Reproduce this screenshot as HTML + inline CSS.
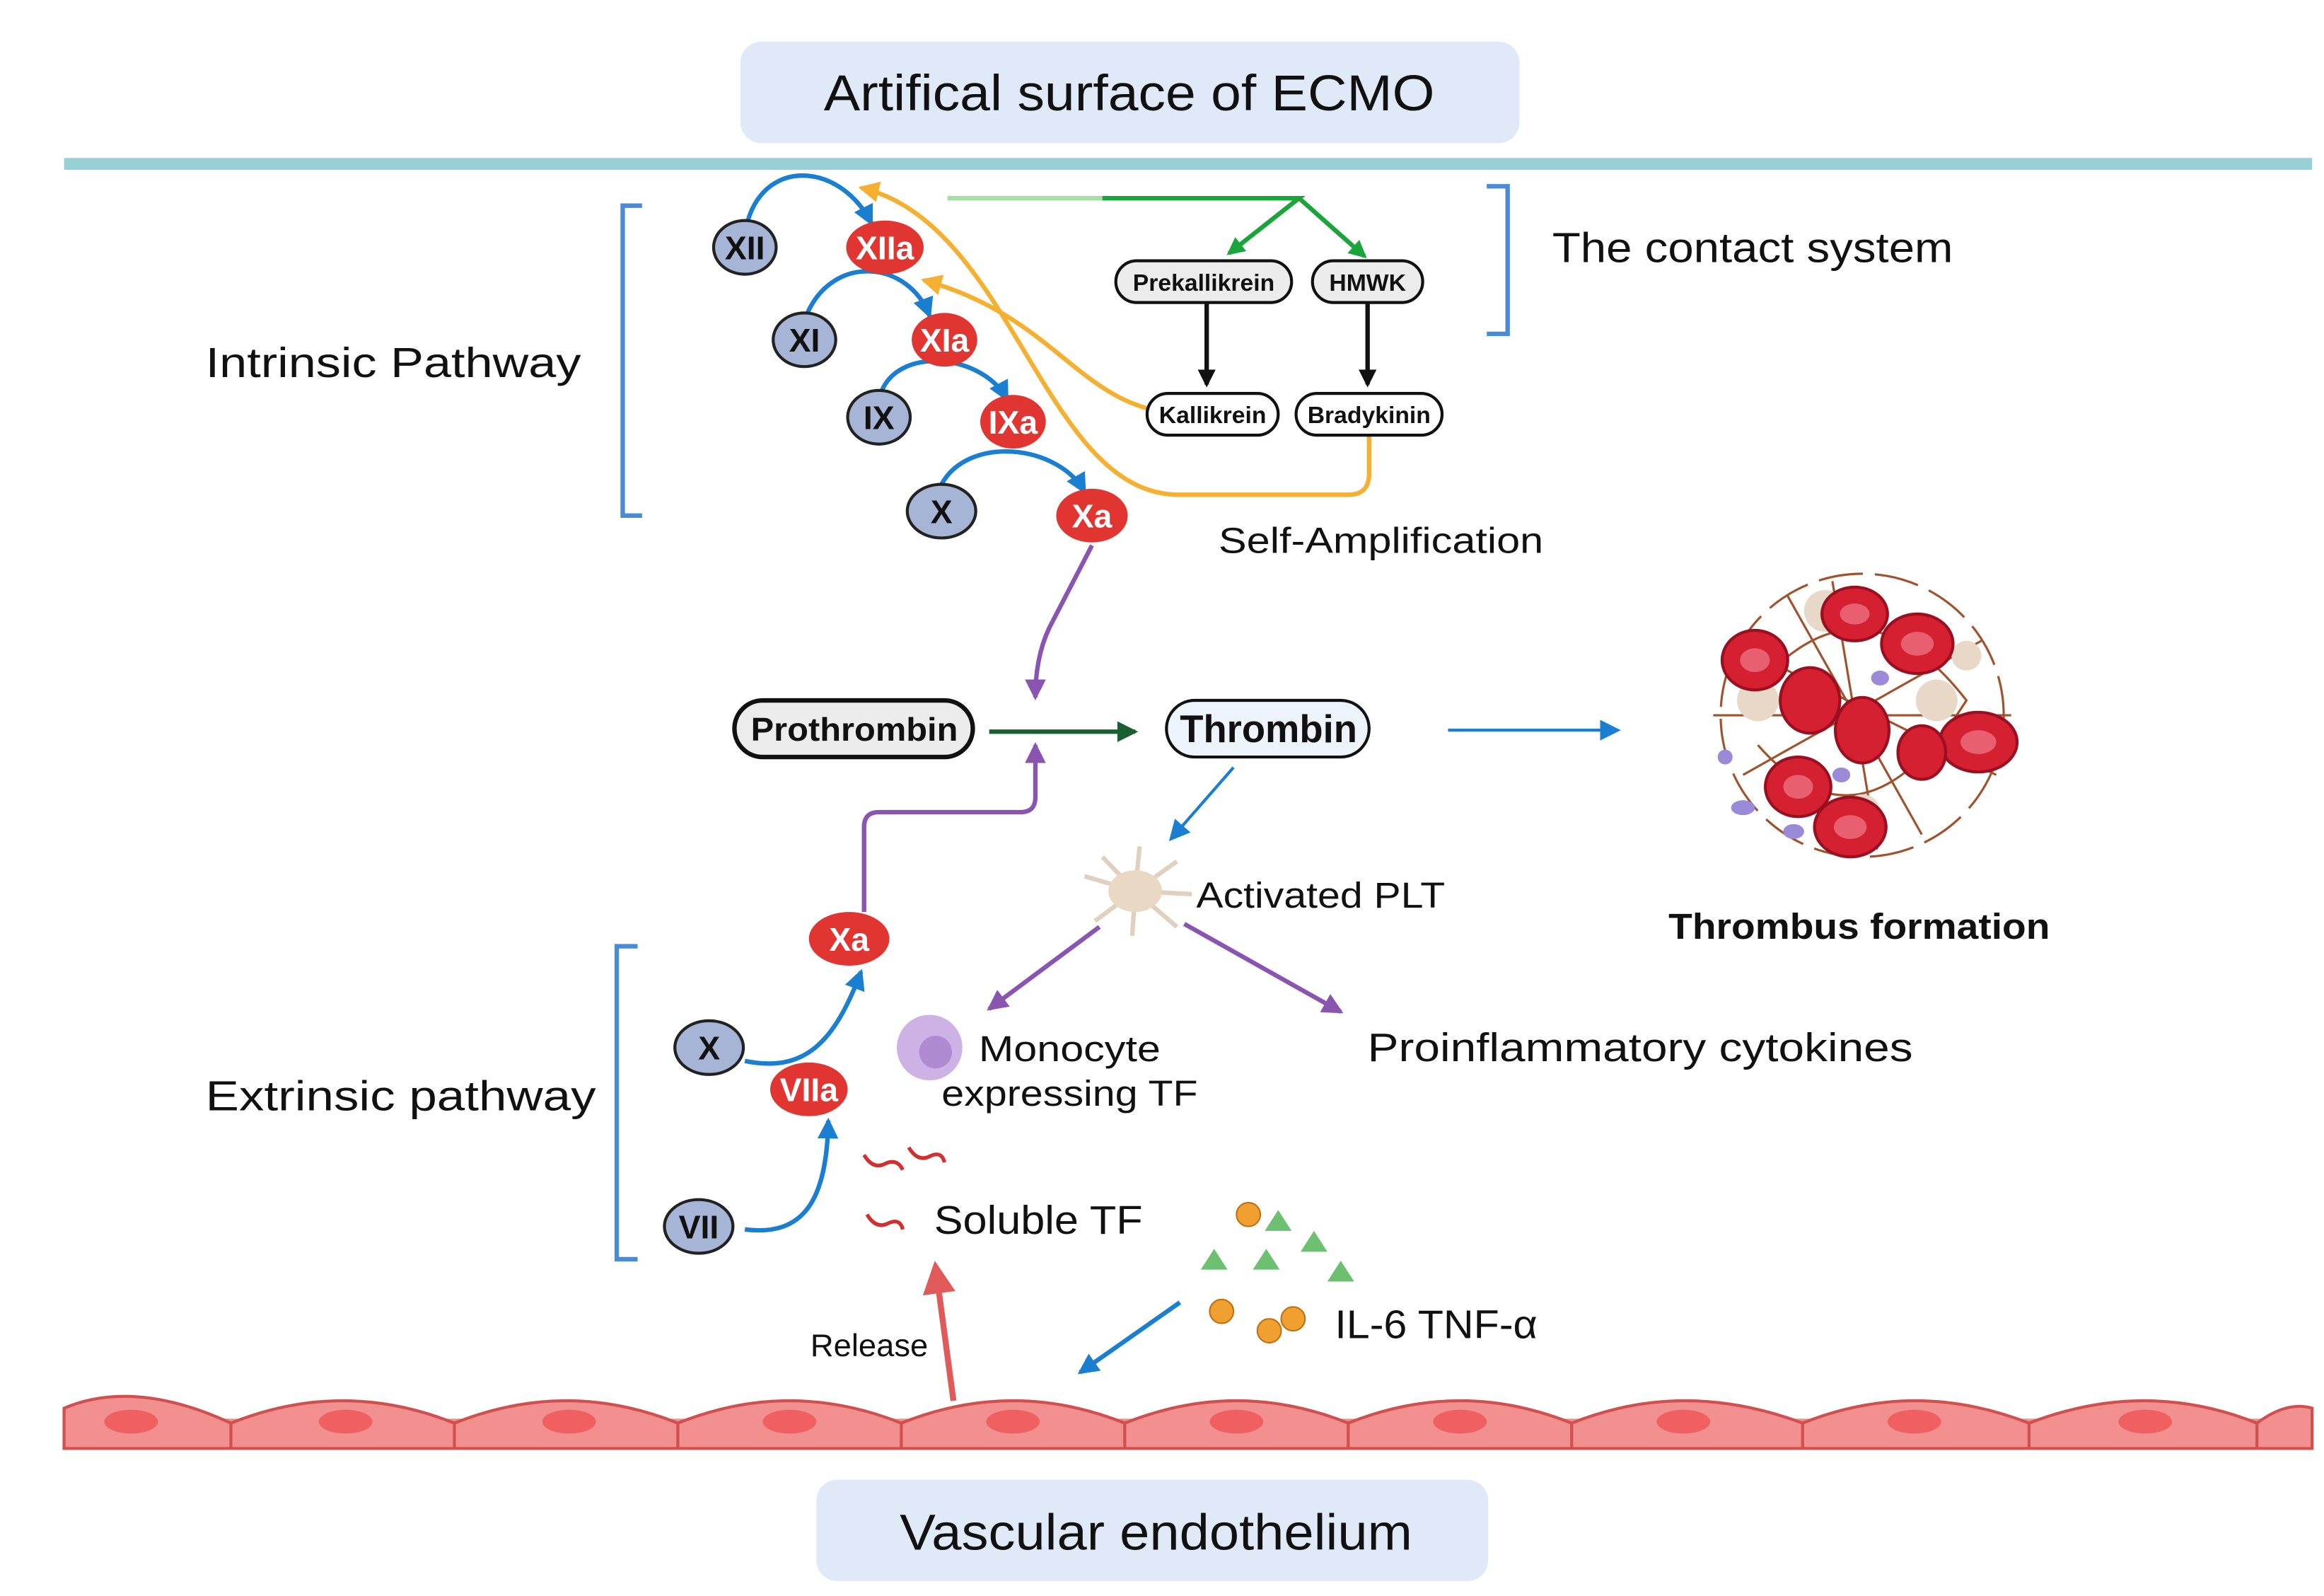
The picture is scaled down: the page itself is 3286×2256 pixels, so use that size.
<!DOCTYPE html>
<html><head><meta charset="utf-8"><style>html,body{margin:0;padding:0;background:#fff}svg{display:block}</style></head>
<body>
<svg width="3286" height="2256" viewBox="0 0 1560 1071" xmlns="http://www.w3.org/2000/svg" font-family="Liberation Sans, sans-serif">
<defs>
<marker id="ak" markerWidth="12" markerHeight="12" refX="10" refY="6" orient="auto" markerUnits="userSpaceOnUse"><path d="M0,0 L12,6 L0,12z" fill="#111"/></marker>
<marker id="ag" markerWidth="12" markerHeight="12" refX="10" refY="6" orient="auto" markerUnits="userSpaceOnUse"><path d="M0,0 L12,6 L0,12z" fill="#1aa53a"/></marker>
<marker id="adg" markerWidth="14" markerHeight="14" refX="12" refY="7" orient="auto" markerUnits="userSpaceOnUse"><path d="M0,0 L14,7 L0,14z" fill="#1b5e30"/></marker>
<marker id="ap" markerWidth="14" markerHeight="14" refX="12" refY="7" orient="auto" markerUnits="userSpaceOnUse"><path d="M0,0 L14,7 L0,14z" fill="#8a55b0"/></marker>
<marker id="ao" markerWidth="14" markerHeight="14" refX="12" refY="7" orient="auto" markerUnits="userSpaceOnUse"><path d="M0,0 L14,7 L0,14z" fill="#f5b031"/></marker>
<marker id="abl" markerWidth="14" markerHeight="14" refX="12" refY="7" orient="auto" markerUnits="userSpaceOnUse"><path d="M0,0 L14,7 L0,14z" fill="#1a7fd0"/></marker>
<marker id="ar" markerWidth="22" markerHeight="22" refX="18" refY="11" orient="auto" markerUnits="userSpaceOnUse"><path d="M0,0 L22,11 L0,22z" fill="#e05a5a"/></marker>
</defs>
<rect x="497" y="28" width="523" height="68" rx="14" fill="#dfe9f8"/>
<text x="553" y="74" font-size="34" textLength="410" lengthAdjust="spacingAndGlyphs" fill="#111">Artifical surface of ECMO</text>
<line x1="43" y1="110" x2="1552" y2="110" stroke="#98d0d8" stroke-width="8"/>
<path d="M431,138 H418 V346 H431" fill="none" stroke="#4a8bd6" stroke-width="3"/>
<path d="M998,125 H1012 V224 H998" fill="none" stroke="#4a8bd6" stroke-width="3"/>
<text x="138" y="253" font-size="28" textLength="252" lengthAdjust="spacingAndGlyphs" fill="#111">Intrinsic Pathway</text>
<text x="1042" y="176" font-size="28" textLength="269" lengthAdjust="spacingAndGlyphs" fill="#111">The contact system</text>
<path d="M636,133 H872" stroke="#a8dca8" stroke-width="3" fill="none"/>
<path d="M740,133 H872 L825,170" stroke="#1aa53a" stroke-width="3" fill="none" marker-end="url(#ag)"/>
<path d="M872,133 L916,172" stroke="#1aa53a" stroke-width="3" fill="none" marker-end="url(#ag)"/>
<path d="M770,274 C720,260 700,210 620,188" stroke="#f5b031" stroke-width="3" fill="none" marker-end="url(#ao)"/>
<path d="M919,292 V318 Q919,332 905,332 H790 C700,330 680,150 578,126" stroke="#f5b031" stroke-width="3" fill="none" marker-end="url(#ao)"/>
<g stroke="#1a7fd0" stroke-width="3" fill="none" marker-end="url(#abl)">
<path d="M502,148 C515,105 565,110 585,150"/>
<path d="M542,210 C560,170 610,175 624,212"/>
<path d="M592,262 C605,232 660,238 676,268"/>
<path d="M632,325 C650,292 710,298 728,330"/>
</g>
<line x1="810" y1="203" x2="810" y2="258" stroke="#111" stroke-width="3" marker-end="url(#ak)"/>
<line x1="918" y1="203" x2="918" y2="258" stroke="#111" stroke-width="3" marker-end="url(#ak)"/>
<g font-weight="bold" font-size="16" text-anchor="middle" fill="#111">
<rect x="749" y="175" width="118" height="28" rx="14" fill="#ececec" stroke="#111" stroke-width="2"/><text x="808" y="195">Prekallikrein</text>
<rect x="881" y="175" width="74" height="28" rx="14" fill="#ececec" stroke="#111" stroke-width="2"/><text x="918" y="195">HMWK</text>
<rect x="770" y="264" width="88" height="28" rx="14" fill="#fff" stroke="#111" stroke-width="2"/><text x="814" y="284">Kallikrein</text>
<rect x="870" y="264" width="98" height="28" rx="14" fill="#fff" stroke="#111" stroke-width="2"/><text x="919" y="284">Bradykinin</text>
</g>
<g font-weight="bold" font-size="22" text-anchor="middle">
<ellipse cx="500" cy="166" rx="21" ry="18" fill="#a6b4d6" stroke="#222" stroke-width="2"/><text x="500" y="174" fill="#111">XII</text>
<ellipse cx="594" cy="166" rx="26" ry="18" fill="#e03530"/><text x="594" y="174" fill="#fff">XIIa</text>
<ellipse cx="540" cy="228" rx="21" ry="18" fill="#a6b4d6" stroke="#222" stroke-width="2"/><text x="540" y="236" fill="#111">XI</text>
<ellipse cx="634" cy="228" rx="22" ry="18" fill="#e03530"/><text x="634" y="236" fill="#fff">XIa</text>
<ellipse cx="590" cy="280" rx="21" ry="18" fill="#a6b4d6" stroke="#222" stroke-width="2"/><text x="590" y="288" fill="#111">IX</text>
<ellipse cx="680" cy="283" rx="22" ry="18" fill="#e03530"/><text x="680" y="291" fill="#fff">IXa</text>
<ellipse cx="632" cy="343" rx="23" ry="18" fill="#a6b4d6" stroke="#222" stroke-width="2"/><text x="632" y="351" fill="#111">X</text>
<ellipse cx="733" cy="346" rx="24" ry="18" fill="#e03530"/><text x="733" y="354" fill="#fff">Xa</text>
</g>
<text x="818" y="371" font-size="24" textLength="218" lengthAdjust="spacingAndGlyphs" fill="#111">Self-Amplification</text>
<path d="M733,366 L705,420 Q695,440 695,468" stroke="#8a55b0" stroke-width="3" fill="none" marker-end="url(#ap)"/>
<rect x="493" y="470" width="160" height="38" rx="19" fill="#ececec" stroke="#111" stroke-width="3"/>
<text x="504" y="497" font-size="22" font-weight="bold" textLength="139" lengthAdjust="spacingAndGlyphs" fill="#111">Prothrombin</text>
<rect x="783" y="470" width="136" height="38" rx="19" fill="#eef4fb" stroke="#111" stroke-width="2"/>
<text x="792" y="498" font-size="26" font-weight="bold" textLength="119" lengthAdjust="spacingAndGlyphs" fill="#111">Thrombin</text>
<line x1="664" y1="491" x2="762" y2="491" stroke="#1b5e30" stroke-width="3" marker-end="url(#adg)"/>
<line x1="972" y1="490" x2="1086" y2="490" stroke="#1a7fd0" stroke-width="2" marker-end="url(#abl)"/>
<g>
<circle cx="1250" cy="480" r="95" fill="none" stroke="#a0522d" stroke-width="1.5" stroke-dasharray="30 8"/>
<path d="M1160,430 L1340,520 M1170,520 L1330,430 M1200,400 L1290,560 M1150,480 L1350,480 M1230,390 L1260,570 M1180,460 Q1250,380 1320,470 Q1250,580 1180,500" stroke="#a0522d" stroke-width="1.5" fill="none"/>
<g fill="#e8d8c8"><circle cx="1225" cy="410" r="14"/><circle cx="1180" cy="470" r="14"/><circle cx="1300" cy="470" r="14"/><circle cx="1250" cy="545" r="12"/><circle cx="1320" cy="440" r="10"/></g>
<g fill="#d42030" stroke="#9a1020" stroke-width="2">
<ellipse cx="1245" cy="412" rx="22" ry="18"/><ellipse cx="1287" cy="432" rx="24" ry="20"/><ellipse cx="1178" cy="443" rx="22" ry="20"/><ellipse cx="1215" cy="470" rx="20" ry="22"/><ellipse cx="1250" cy="490" rx="18" ry="22"/><ellipse cx="1328" cy="498" rx="26" ry="20"/><ellipse cx="1290" cy="505" rx="16" ry="18"/><ellipse cx="1207" cy="528" rx="22" ry="20"/><ellipse cx="1242" cy="555" rx="24" ry="20"/>
</g>
<g fill="#e86070"><ellipse cx="1245" cy="412" rx="10" ry="7"/><ellipse cx="1287" cy="432" rx="11" ry="8"/><ellipse cx="1178" cy="443" rx="10" ry="8"/><ellipse cx="1328" cy="498" rx="12" ry="8"/><ellipse cx="1207" cy="528" rx="10" ry="8"/><ellipse cx="1242" cy="555" rx="11" ry="8"/></g>
<g fill="#9a8ad8"><ellipse cx="1170" cy="542" rx="8" ry="5"/><ellipse cx="1204" cy="558" rx="7" ry="5"/><ellipse cx="1158" cy="508" rx="5" ry="5"/><ellipse cx="1262" cy="455" rx="6" ry="5"/><ellipse cx="1236" cy="520" rx="6" ry="5"/></g>
</g>
<text x="1120" y="630" font-size="24" font-weight="bold" textLength="256" lengthAdjust="spacingAndGlyphs" fill="#111">Thrombus formation</text>
<line x1="828" y1="515" x2="786" y2="563" stroke="#1a7fd0" stroke-width="2" marker-end="url(#abl)"/>
<g stroke="#e0d0c0" stroke-width="3" fill="none"><path d="M762,598 L728,588 M762,598 L740,575 M762,598 L765,568 M762,598 L790,578 M762,598 L800,600 M762,598 L790,622 M762,598 L760,628 M762,598 L735,618"/></g>
<ellipse cx="762" cy="598" rx="18" ry="14" fill="#e8d8c4"/>
<text x="803" y="609" font-size="24" textLength="167" lengthAdjust="spacingAndGlyphs" fill="#111">Activated PLT</text>
<line x1="738" y1="622" x2="664" y2="677" stroke="#8a55b0" stroke-width="3" marker-end="url(#ap)"/>
<line x1="795" y1="620" x2="900" y2="679" stroke="#8a55b0" stroke-width="3" marker-end="url(#ap)"/>
<circle cx="624" cy="703" r="22" fill="#cdb2e6"/><circle cx="628" cy="706" r="11" fill="#b08ad0"/>
<text x="657" y="712" font-size="24" textLength="122" lengthAdjust="spacingAndGlyphs" fill="#111">Monocyte</text>
<text x="632" y="742" font-size="24" textLength="172" lengthAdjust="spacingAndGlyphs" fill="#111">expressing TF</text>
<text x="918" y="712" font-size="27" textLength="366" lengthAdjust="spacingAndGlyphs" fill="#111">Proinflammatory cytokines</text>
<path d="M428,635 H414 V845 H428" fill="none" stroke="#4a8bd6" stroke-width="3"/>
<text x="138" y="745" font-size="28" textLength="262" lengthAdjust="spacingAndGlyphs" fill="#111">Extrinsic pathway</text>
<path d="M580,612 V555 Q580,545 590,545 H685 Q695,545 695,535 V500" stroke="#8a55b0" stroke-width="3" fill="none" marker-end="url(#ap)"/>
<path d="M500,712 C540,720 560,700 578,652" stroke="#1a7fd0" stroke-width="3" fill="none" marker-end="url(#abl)"/>
<path d="M500,825 C540,830 555,805 556,752" stroke="#1a7fd0" stroke-width="3" fill="none" marker-end="url(#abl)"/>
<g font-weight="bold" font-size="22" text-anchor="middle">
<ellipse cx="570" cy="630" rx="27" ry="18" fill="#e03530"/><text x="570" y="638" fill="#fff">Xa</text>
<ellipse cx="476" cy="703" rx="23" ry="18" fill="#a6b4d6" stroke="#222" stroke-width="2"/><text x="476" y="711" fill="#111">X</text>
<ellipse cx="543" cy="731" rx="26" ry="18" fill="#e03530"/><text x="543" y="739" fill="#fff">VIIa</text>
<ellipse cx="469" cy="823" rx="23" ry="18" fill="#a6b4d6" stroke="#222" stroke-width="2"/><text x="469" y="831" fill="#111">VII</text>
</g>
<g stroke="#d03030" stroke-width="2.5" fill="none"><path d="M580,775 q6,10 14,6 t12,4"/><path d="M610,770 q6,10 14,6 t10,4"/><path d="M582,815 q6,10 14,6 t10,4"/></g>
<text x="627" y="828" font-size="27" textLength="140" lengthAdjust="spacingAndGlyphs" fill="#111">Soluble TF</text>
<g fill="#6cc070"><path d="M858,812 l9,14 h-18z"/><path d="M882,826 l9,14 h-18z"/><path d="M815,838 l9,14 h-18z"/><path d="M850,838 l9,14 h-18z"/><path d="M900,846 l9,14 h-18z"/></g>
<g fill="#f0a030" stroke="#c07010"><circle cx="838" cy="815" r="8"/><circle cx="820" cy="880" r="8"/><circle cx="852" cy="893" r="8"/><circle cx="868" cy="885" r="8"/></g>
<text x="896" y="898" font-size="27" textLength="136" lengthAdjust="spacingAndGlyphs" fill="#111">IL-6 TNF-α</text>
<line x1="792" y1="874" x2="725" y2="921" stroke="#1a7fd0" stroke-width="3" marker-end="url(#abl)"/>
<line x1="640" y1="940" x2="628" y2="850" stroke="#e05a5a" stroke-width="4" marker-end="url(#ar)"/>
<text x="544" y="910" font-size="21" textLength="79" lengthAdjust="spacingAndGlyphs" fill="#111">Release</text>
<rect x="43" y="952" width="1509" height="20" fill="#f29090"/>
<g fill="#f29090" stroke="#d05050" stroke-width="2">
<path d="M43,972 V945 Q90,925 155,955 Q230,925 305,955 Q380,925 455,955 Q530,925 605,955 Q680,925 755,955 Q830,925 905,955 Q980,925 1055,955 Q1130,925 1210,955 Q1285,925 1362,955 Q1440,925 1515,955 Q1535,940 1552,945 V972 Z"/>
</g>
<g stroke="#d05050" stroke-width="2"><path d="M155,955 V972 M305,955 V972 M455,955 V972 M605,955 V972 M755,955 V972 M905,955 V972 M1055,955 V972 M1210,955 V972 M1362,955 V972 M1515,955 V972"/></g>
<g fill="#f06060"><ellipse cx="88" cy="954" rx="18" ry="8"/><ellipse cx="232" cy="954" rx="18" ry="8"/><ellipse cx="382" cy="954" rx="18" ry="8"/><ellipse cx="530" cy="954" rx="18" ry="8"/><ellipse cx="680" cy="954" rx="18" ry="8"/><ellipse cx="830" cy="954" rx="18" ry="8"/><ellipse cx="980" cy="954" rx="18" ry="8"/><ellipse cx="1130" cy="954" rx="18" ry="8"/><ellipse cx="1285" cy="954" rx="18" ry="8"/><ellipse cx="1440" cy="954" rx="18" ry="8"/></g>
<rect x="548" y="993" width="451" height="68" rx="14" fill="#dfe9f8"/>
<text x="604" y="1040" font-size="34" textLength="344" lengthAdjust="spacingAndGlyphs" fill="#111">Vascular endothelium</text>
</svg>
</body></html>
